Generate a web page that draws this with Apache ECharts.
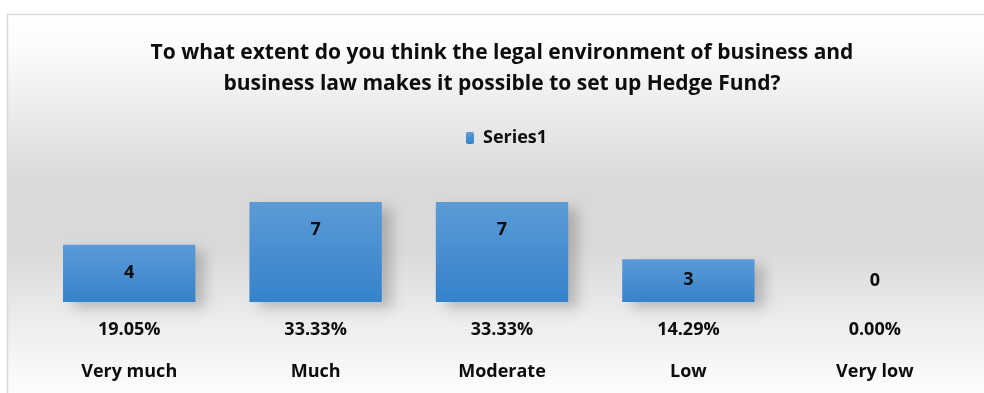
<!DOCTYPE html>
<html>
<head>
<meta charset="utf-8">
<script src="https://cdn.jsdelivr.net/npm/echarts@6/dist/echarts.min.js"></script>
<style>
  html, body { margin: 0; padding: 0; background: #ffffff; }
  #chart { width: 984px; height: 393px; }
</style>
</head>
<body>
<div id="chart"></div>
<script>
// Survey answers: number of respondents per answer
const categories = ['Very much', 'Much', 'Moderate', 'Low', 'Very low'];
const counts = [4, 7, 7, 3, 0];
const seriesName = 'Series1';
const chartTitle = 'To what extent do you think the legal environment of business and\nbusiness law makes it possible to set up Hedge Fund?';

const total = counts.reduce((a, b) => a + b, 0);
const shares = counts.map(v => (v / total * 100).toFixed(2) + '%');

const FONT = '"Open Sans", Lato, sans-serif';
const LABEL_SIZE = 18;

const barGradient = new echarts.graphic.LinearGradient(0, 0, 0, 1, [
  { offset: 0, color: '#5b9bd6' },
  { offset: 1, color: '#3582cb' }
]);

// value labels sit inside the top of each bar; an empty bar gets its label above the baseline
const barData = counts.map(v => ({
  value: v,
  label: v === 0
    ? { position: 'top', distance: 12 }
    : { position: 'insideTop', distance: v < 4 ? 12 : 19 }
}));

const chart = echarts.init(document.getElementById('chart'), null, { renderer: 'canvas' });

chart.setOption({
  animation: false,
  backgroundColor: '#ffffff',
  graphic: [{
    type: 'rect',
    z: -10,
    silent: true,
    shape: { x: 7.5, y: 14.5, width: 1000, height: 400 },
    style: {
      fill: new echarts.graphic.LinearGradient(0, 0, 0, 1, [
        { offset: 0, color: '#ffffff' },
        { offset: 0.08, color: '#fcfcfc' },
        { offset: 0.42, color: '#d9d9d9' },
        { offset: 0.58, color: '#d9d9d9' },
        { offset: 0.76, color: '#ececec' },
        { offset: 0.92, color: '#fbfbfb' },
        { offset: 1, color: '#ffffff' }
      ]),
      stroke: '#d9d9d9',
      lineWidth: 1.5
    }
  }],
  title: {
    text: chartTitle,
    left: 502,
    top: 38,
    padding: 0,
    textAlign: 'center',
    textStyle: {
      fontFamily: FONT,
      fontWeight: 'bold',
      fontSize: 21,
      lineHeight: 31,
      color: '#0d0d0d'
    }
  },
  legend: {
    data: [seriesName],
    left: 466,
    top: 129,
    padding: 0,
    itemWidth: 8,
    itemHeight: 12,
    itemGap: 8,
    textStyle: {
      fontFamily: FONT,
      fontWeight: 'bold',
      fontSize: LABEL_SIZE,
      color: '#0d0d0d',
      padding: [0, 0, 0, 4]
    }
  },
  grid: {
    left: 36,
    right: 16,
    top: 202,
    height: 100
  },
  xAxis: {
    type: 'category',
    data: categories,
    axisLine: { show: false },
    axisTick: { show: false },
    splitLine: { show: false },
    axisLabel: {
      margin: 7,
      interval: 0,
      formatter: (val, idx) => '{p|' + shares[idx] + '}\n{c|' + val + '}',
      rich: {
        p: { fontFamily: FONT, fontWeight: 'bold', fontSize: LABEL_SIZE, lineHeight: 42, color: '#0d0d0d' },
        c: { fontFamily: FONT, fontWeight: 'bold', fontSize: LABEL_SIZE, lineHeight: 42, color: '#0d0d0d' }
      }
    }
  },
  yAxis: {
    type: 'value',
    min: 0,
    max: 7,
    show: false,
    splitLine: { show: false }
  },
  series: [{
    name: seriesName,
    type: 'bar',
    data: barData,
    barWidth: '71%',
    itemStyle: {
      color: barGradient,
      shadowColor: 'rgba(0,0,0,0.2)',
      shadowBlur: 12,
      shadowOffsetX: 10,
      shadowOffsetY: 6
    },
    label: {
      show: true,
      fontFamily: FONT,
      fontWeight: 'bold',
      fontSize: LABEL_SIZE,
      color: '#0d0d0d'
    }
  }]
});
</script>
</body>
</html>
